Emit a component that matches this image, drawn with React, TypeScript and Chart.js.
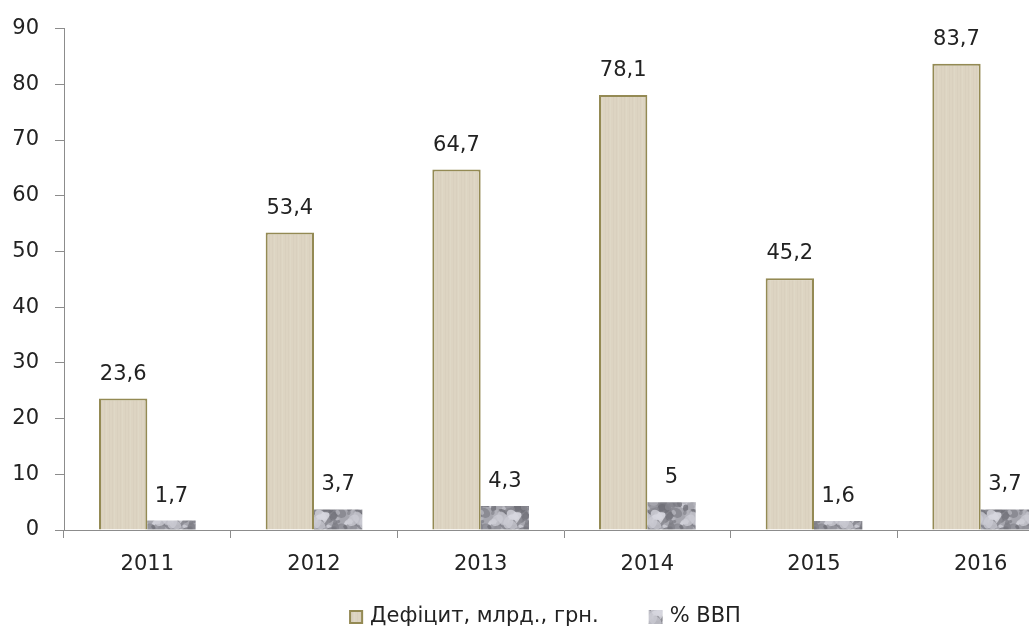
import React, { useEffect, useRef } from "react";
import { Chart, registerables } from "chart.js";

Chart.register(...registerables);

const years = ["2011", "2012", "2013", "2014", "2015", "2016"];
const deficit = [23.6, 53.4, 64.7, 78.1, 45.2, 83.7];
const gdpShare = [1.7, 3.7, 4.3, 5, 1.6, 3.7];
const seriesNames = ["Дефіцит, млрд., грн.", "% ВВП"];
const yTicks = [0, 10, 20, 30, 40, 50, 60, 70, 80, 90];

const FONT = "'DejaVu Sans', 'Open Sans', sans-serif";
const FS = 21;

function hash(n: number) {
  const s = Math.sin(n * 12.9898 + 78.233) * 43758.5453;
  return s - Math.floor(s);
}

function makeGrayPattern(): CanvasPattern | string {
  const c = document.createElement("canvas");
  c.width = 48;
  c.height = 48;
  const g = c.getContext("2d");
  if (!g) return "#a4a4ac";
  g.fillStyle = "#a6a6ae";
  g.fillRect(0, 0, 48, 48);
  for (let i = 0; i < 110; i++) {
    const x = hash(i) * 48;
    const y = hash(i + 500) * 48;
    const r = 1.5 + hash(i + 1000) * 3.5;
    const t = hash(i + 1500);
    const v = t < 0.55 ? Math.round(100 + t * 80) : Math.round(170 + (t - 0.55) * 100);
    g.fillStyle = `rgba(${v},${v},${v + 8},0.75)`;
    for (const dx of [-48, 0, 48]) {
      for (const dy of [-48, 0, 48]) {
        g.beginPath();
        g.ellipse(x + dx, y + dy, r * 1.4, r, hash(i + 2000) * 3, 0, Math.PI * 2);
        g.fill();
      }
    }
  }
  const p = g.createPattern(c, "repeat");
  return p || "#a4a4ac";
}

function makeBeigePattern(): CanvasPattern | string {
  const c = document.createElement("canvas");
  c.width = 8;
  c.height = 8;
  const g = c.getContext("2d");
  if (!g) return "#ddd4c2";
  g.fillStyle = "#ddd4c2";
  g.fillRect(0, 0, 8, 8);
  g.fillStyle = "rgba(205,195,175,0.2)";
  g.fillRect(0, 0, 1, 8);
  g.fillRect(5, 0, 1, 8);
  g.fillStyle = "rgba(232,226,212,0.25)";
  g.fillRect(2, 0, 1, 8);
  const p = g.createPattern(c, "repeat");
  return p || "#ddd4c2";
}

const fmt = (v: number) => String(v).replace(".", ",");

export default function App() {
  const ref = useRef<HTMLCanvasElement | null>(null);

  useEffect(() => {
    if (!ref.current) return;
    const grayFill = makeGrayPattern();
    const beigeFill = makeBeigePattern();

    const labelPlugin = {
      id: "valueLabels",
      afterDatasetsDraw(chart: any) {
        const ctx = chart.ctx;
        ctx.save();
        ctx.font = `${FS}px ${FONT}`;
        ctx.fillStyle = "#222";
        ctx.textAlign = "center";
        ctx.textBaseline = "alphabetic";
        chart.data.datasets.forEach((ds: any, di: number) => {
          const meta = chart.getDatasetMeta(di);
          meta.data.forEach((el: any, i: number) => {
            ctx.fillText(fmt(ds.data[i]), el.x, el.y - 19);
          });
        });
        ctx.restore();
      },
    };

    const legendPlugin = {
      id: "customLegend",
      afterDraw(chart: any) {
        const ctx = chart.ctx;
        ctx.save();
        ctx.font = `${FS}px ${FONT}`;
        const box = 14;
        const gap = 7;
        const spacing = 50;
        const w1 = ctx.measureText(seriesNames[0]).width;
        const w2 = ctx.measureText(seriesNames[1]).width;
        const total = box + gap + w1 + spacing + box + gap + w2;
        const cx = 545;
        const cy = 617;
        let x = cx - total / 2;
        ctx.fillStyle = beigeFill as any;
        ctx.fillRect(x, cy - box / 2, box, box);
        ctx.strokeStyle = "#948a54";
        ctx.lineWidth = 2;
        ctx.strokeRect(x + 1, cy - box / 2 + 1, box - 2, box - 2);
        ctx.fillStyle = "#222";
        ctx.textBaseline = "middle";
        ctx.textAlign = "left";
        ctx.fillText(seriesNames[0], x + box + gap, cy);
        x += box + gap + w1 + spacing;
        ctx.fillStyle = grayFill as any;
        ctx.fillRect(x, cy - box / 2, box, box);
        ctx.fillStyle = "#222";
        ctx.fillText(seriesNames[1], x + box + gap, cy);
        ctx.restore();
      },
    };

    const chart = new Chart(ref.current, {
      type: "bar",
      data: {
        labels: years,
        datasets: [
          {
            label: seriesNames[0],
            data: deficit,
            backgroundColor: beigeFill as any,
            borderColor: "#948a54",
            borderWidth: 2,
            borderSkipped: "bottom",
            categoryPercentage: 0.58,
            barPercentage: 1,
          },
          {
            label: seriesNames[1],
            data: gdpShare,
            backgroundColor: grayFill as any,
            borderWidth: 0,
            categoryPercentage: 0.58,
            barPercentage: 1,
          },
        ],
      },
      options: {
        responsive: false,
        animation: false,
        layout: { padding: { top: 26, right: 0, bottom: 52, left: 0 } },
        plugins: {
          legend: { display: false },
          tooltip: { enabled: false },
        },
        scales: {
          x: {
            grid: {
              display: true,
              drawOnChartArea: false,
              drawTicks: true,
              tickLength: 8,
              color: "#8c8c8c",
            },
            border: { color: "#8c8c8c", width: 1 },
            ticks: {
              color: "#222",
              font: { size: FS, family: FONT },
              padding: 14,
            },
            afterFit: (s: any) => {
              s.height = 50;
            },
          },
          y: {
            min: 0,
            max: 90,
            afterBuildTicks: (s: any) => {
              s.ticks = yTicks.map((v) => ({ value: v }));
            },
            grid: {
              display: true,
              drawOnChartArea: false,
              drawTicks: true,
              tickLength: 9,
              color: "#8c8c8c",
            },
            border: { color: "#8c8c8c", width: 1 },
            ticks: {
              color: "#222",
              font: { size: FS, family: FONT },
              padding: 16,
            },
            afterFit: (s: any) => {
              s.width = 64;
            },
          },
        },
      },
      plugins: [labelPlugin, legendPlugin],
    });
    return () => chart.destroy();
  }, []);

  return (
    <div
      style={{
        position: "fixed",
        left: 0,
        top: 0,
        width: 1029,
        height: 632,
        overflow: "hidden",
        background: "#fff",
      }}
    >
      <canvas ref={ref} width={1064} height={632} style={{ display: "block" }} />
    </div>
  );
}
